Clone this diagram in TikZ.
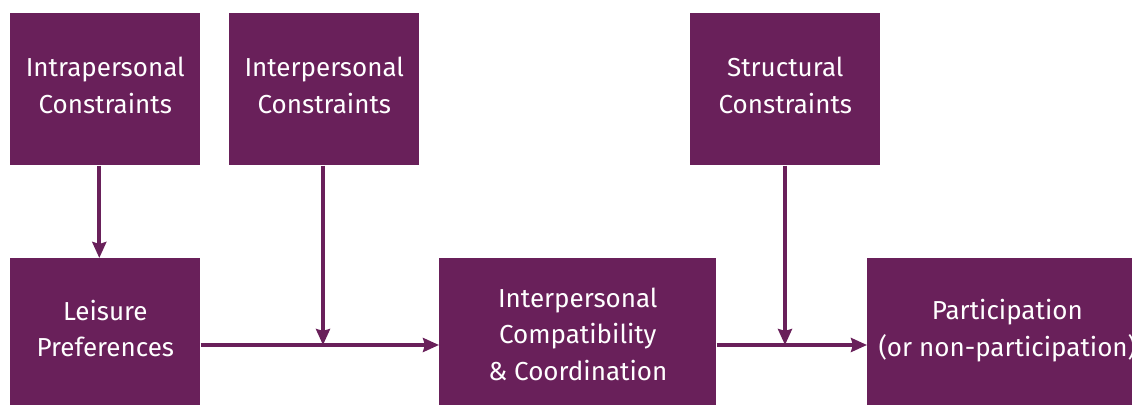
\documentclass[tikz,border=0pt]{standalone}
\usepackage{fontspec}
\setmainfont{Fira Sans}
\usepackage{xcolor}
\usetikzlibrary{arrows.meta, positioning, calc}
\definecolor{plum}{HTML}{69205A}

\begin{document}
\begin{tikzpicture}[
    x=0.025cm, y=-0.025cm,
    box/.style={rectangle, fill=plum, text=white, align=center, anchor=north west,
        inner sep=0pt, font=\fontsize{18.5}{26}\selectfont},
    topbox/.style={box, minimum width=4.75cm, minimum height=3.8cm, text depth=5.7pt},
    lowbox/.style={box, minimum height=3.8cm},
    arrow/.style={-{Stealth[length=0.4cm, width=0.35cm, inset=0.05cm]}, line width=0.1cm, draw=plum}
]
\useasboundingbox (0,0) rectangle (1132,405);

% constraints along the top
\node[topbox] (intra) at (10,13) {Intrapersonal\\Constraints};
\node[topbox] (inter) at (229,13) {Interpersonal\\Constraints};
\node[topbox] (struct) at (690,13) {Structural\\Constraints};

% lower row
\node[lowbox, minimum width=4.75cm, text depth=8.5pt] (leisure) at (10,258) {Leisure\\Preferences};
\node[lowbox, minimum width=6.925cm] (compat) at (439,258) {Interpersonal\\Compatibility\\\& Coordination};
\node[lowbox, minimum width=7cm, text depth=9pt] (partic) at (867,258) {Participation\\(or non-participation)};

% where the constraints join the main line
\coordinate (j1) at (323,345);
\coordinate (j2) at (785,345);

\draw[arrow] ([xshift=-0.15cm]intra.south) -- ([xshift=-0.15cm]leisure.north);
\draw[arrow] (inter.south -| j1) -- (j1);
\draw[arrow] (struct.south -| j2) -- (j2);
\draw[arrow] (leisure.east |- j1) -- (compat.west |- j1);
\draw[arrow] (compat.east |- j2) -- (partic.west |- j2);

\end{tikzpicture}
\end{document}
